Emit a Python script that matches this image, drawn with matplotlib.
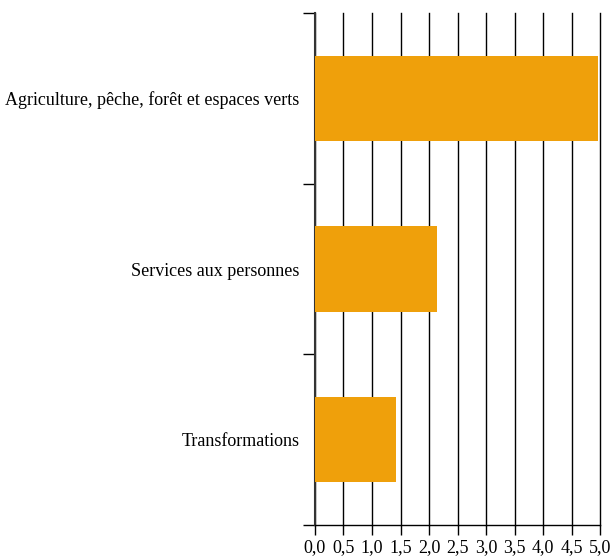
import matplotlib.pyplot as plt
import numpy as np
from matplotlib.ticker import FuncFormatter

# --- data ---
categories = ["Agriculture, pêche, forêt et espaces verts",
              "Services aux personnes",
              "Transformations"]
values = [4.96, 2.14, 1.42]
x_ticks = [0.0, 0.5, 1.0, 1.5, 2.0, 2.5, 3.0, 3.5, 4.0, 4.5, 5.0]

BAR_COLOR = "#EFA00B"

plt.rcParams["font.family"] = ["Liberation Serif", "DejaVu Serif"]

fig = plt.figure(figsize=(6.12, 5.57), dpi=100)
ax = fig.add_axes([315 / 612, 1 - 525 / 557, 285 / 612, 512 / 557])

n = len(categories)
pos = np.arange(n)[::-1] + 0.5   # first category at top
ax.barh(pos, values, height=0.5, color=BAR_COLOR, zorder=3)

ax.set_xlim(0, 5.0)
ax.set_ylim(0, n)

# vertical grid lines
ax.set_xticks(x_ticks)
ax.xaxis.set_major_formatter(FuncFormatter(lambda v, _: f"{v:.1f}".replace(".", ",")))
ax.grid(axis="x", color="black", linewidth=1, zorder=1)
for gl in ax.get_xgridlines():
    gl.set_clip_on(False)
ax.tick_params(axis="x", length=7.5, width=1, color="black", pad=3,
               labelsize=13, labelcolor="black")

# category boundaries as ticks, labels at band centres
ax.set_yticks(np.arange(n + 1))
ax.set_yticklabels([])
ax.tick_params(axis="y", which="major", length=8.6, width=1, color="black")
ax.set_yticks(pos, minor=True)
ax.set_yticklabels(categories, minor=True)
ax.tick_params(axis="y", which="minor", length=0, pad=11, labelsize=13)

for side in ["top", "right"]:
    ax.spines[side].set_visible(False)
ax.spines["left"].set_color("#333333")
ax.spines["left"].set_linewidth(1.5)
ax.spines["bottom"].set_color("black")
ax.spines["bottom"].set_linewidth(1)

fig.savefig("out.png", dpi=100)
